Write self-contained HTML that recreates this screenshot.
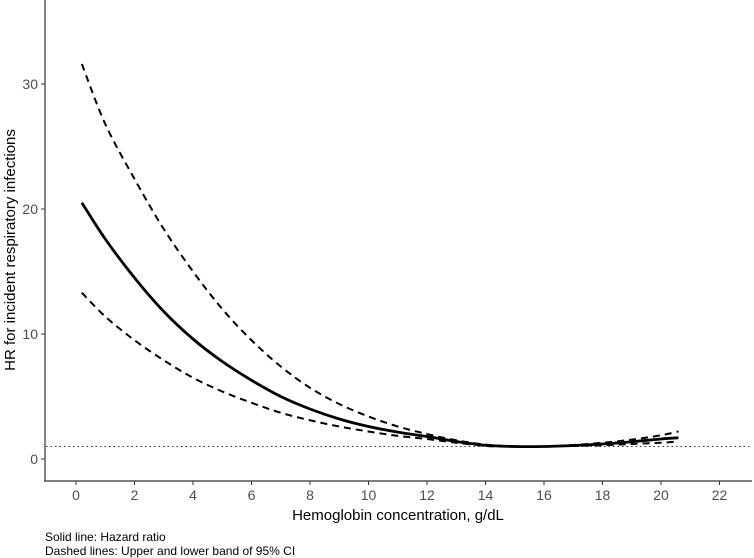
<!DOCTYPE html>
<html><head><meta charset="utf-8"><style>
body{margin:0;background:#fff;}
svg{display:block;font-family:"Liberation Sans",Arial,sans-serif;}
</style></head><body>
<svg id="chart" width="754" height="558">
<g id="axes"></g>
<g id="series"></g>
<text x="398" y="520" font-size="15" text-anchor="middle" fill="#000">Hemoglobin concentration, g/dL</text>
<text transform="translate(15,250) rotate(-90)" font-size="15" text-anchor="middle" fill="#000">HR for incident respiratory infections</text>
<text x="45" y="541" font-size="12" fill="#000">Solid line: Hazard ratio</text>
<text x="45" y="555" font-size="12" fill="#000">Dashed lines: Upper and lower band of 95% CI</text>
</svg>
<script>
const xVals=[0.2,1,2,3,4,5,6,7,8,9,10,11,12,13,14,15,16,17,18,19,20,20.6];
const hr=[20.5,17.6,14.5,11.8,9.6,7.8,6.3,5.0,4.0,3.2,2.6,2.15,1.8,1.4,1.1,1.0,1.0,1.08,1.2,1.38,1.6,1.7];
const upper=[31.6,26.8,22.4,18.4,15.0,12.0,9.5,7.4,5.7,4.4,3.4,2.6,2.0,1.5,1.15,1.0,1.0,1.12,1.3,1.55,1.9,2.2];
const lower=[13.3,11.4,9.5,7.9,6.5,5.4,4.5,3.7,3.1,2.6,2.2,1.85,1.6,1.3,1.05,0.98,1.0,1.05,1.1,1.2,1.3,1.4];
const xTicks=[0,2,4,6,8,10,12,14,16,18,20,22];
const yTicks=[0,10,20,30];
const refLine=1;
const X=v=>76+29.25*v, Y=v=>459-12.5*v;
const NS="http://www.w3.org/2000/svg";
function mk(t,a,p){const e=document.createElementNS(NS,t);for(const k in a)e.setAttribute(k,a[k]);p.appendChild(e);return e;}
const ax=document.getElementById('axes');
const yl=mk('line',{x1:45,y1:0,x2:45,y2:481,stroke:'#333','stroke-width':1.2},ax);


const xl=mk('line',{x1:44,y1:481,x2:752,y2:481,stroke:'#333','stroke-width':1.2},ax);


xTicks.forEach(t=>{
 mk('line',{x1:X(t),y1:481,x2:X(t),y2:485,stroke:'#333'},ax);
 const tx=mk('text',{x:X(t),y:500,'font-size':14,'text-anchor':'middle',fill:'#4d4d4d'},ax);tx.textContent=t;
 
 
});
yTicks.forEach(t=>{
 mk('line',{x1:41,y1:Y(t),x2:45,y2:Y(t),stroke:'#333'},ax);
 const tx=mk('text',{x:38,y:Y(t)+5,'font-size':14,'text-anchor':'end',fill:'#4d4d4d'},ax);tx.textContent=t;
 
 
});
const rl=mk('line',{x1:46,y1:Y(refLine),x2:752,y2:Y(refLine),stroke:'#333','stroke-width':1,'stroke-dasharray':'1.5,3'},ax);


function path(vals){
 const p=xVals.map((x,i)=>[X(x),Y(vals[i])]);
 let d=`M${p[0][0]},${p[0][1]}`;
 for(let i=0;i<p.length-1;i++){
  const p0=p[i-1]||p[i],p1=p[i],p2=p[i+1],p3=p[i+2]||p2;
  d+=` C${p1[0]+(p2[0]-p0[0])/6},${p1[1]+(p2[1]-p0[1])/6} ${p2[0]-(p3[0]-p1[0])/6},${p2[1]-(p3[1]-p1[1])/6} ${p2[0]},${p2[1]}`;
 }
 return d;
}
const sg=document.getElementById('series');
const u=mk('path',{d:path(upper),fill:'none',stroke:'#000','stroke-width':2,'stroke-dasharray':'7,5'},sg);


const l=mk('path',{d:path(lower),fill:'none',stroke:'#000','stroke-width':2,'stroke-dasharray':'7,5'},sg);


const h=mk('path',{d:path(hr),fill:'none',stroke:'#000','stroke-width':2.8},sg);


</script>
</body></html>
